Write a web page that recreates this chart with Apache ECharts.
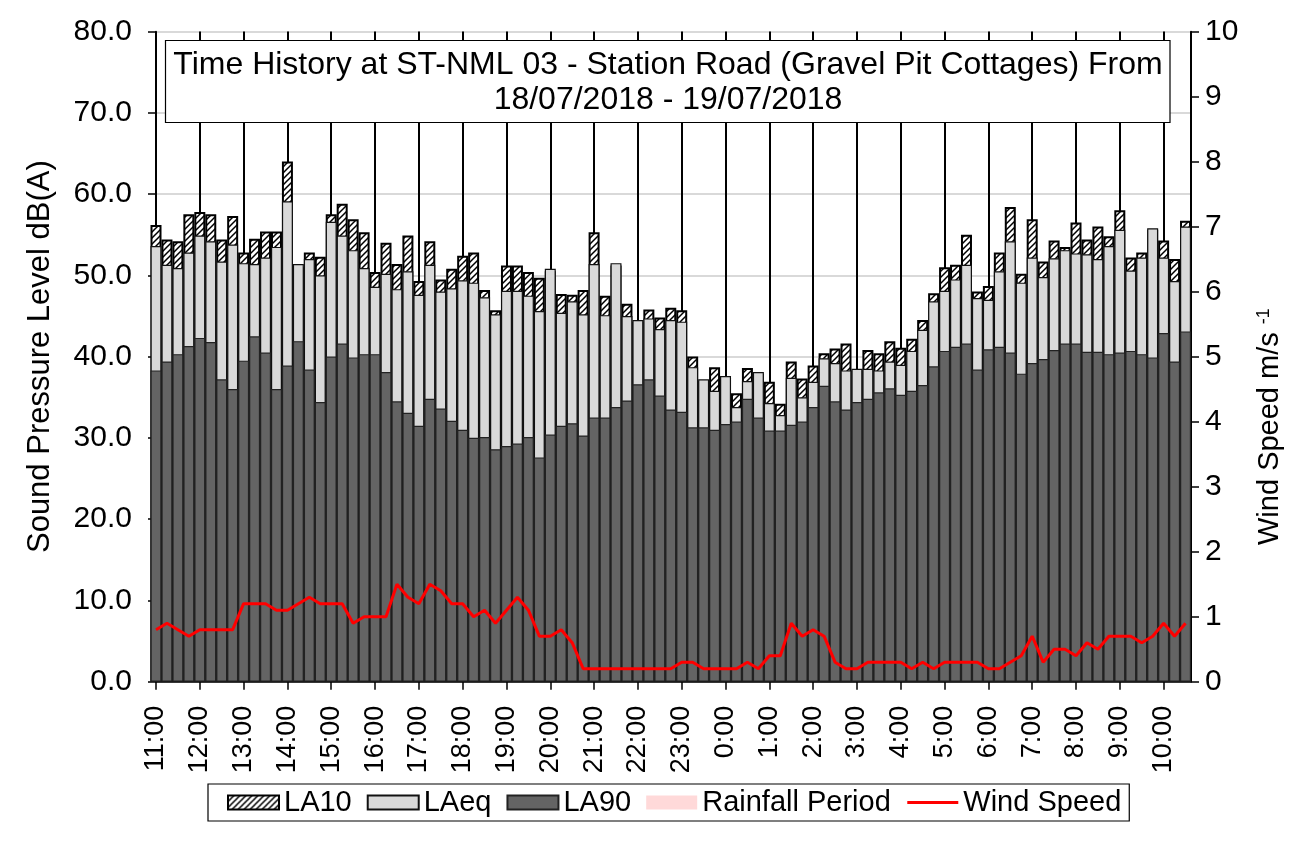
<!DOCTYPE html>
<html><head><meta charset="utf-8">
<script src="https://cdn.jsdelivr.net/npm/echarts@6/dist/echarts.min.js"></script>
<style>html,body{margin:0;padding:0;background:#fff}#c{width:1292px;height:841px}</style>
</head><body><div id="c"></div>
<script>
const times = ['11:00','11:15','11:30','11:45','12:00','12:15','12:30','12:45','13:00','13:15','13:30','13:45',
'14:00','14:15','14:30','14:45','15:00','15:15','15:30','15:45','16:00','16:15','16:30','16:45',
'17:00','17:15','17:30','17:45','18:00','18:15','18:30','18:45','19:00','19:15','19:30','19:45',
'20:00','20:15','20:30','20:45','21:00','21:15','21:30','21:45','22:00','22:15','22:30','22:45',
'23:00','23:15','23:30','23:45','0:00','0:15','0:30','0:45','1:00','1:15','1:30','1:45',
'2:00','2:15','2:30','2:45','3:00','3:15','3:30','3:45','4:00','4:15','4:30','4:45',
'5:00','5:15','5:30','5:45','6:00','6:15','6:30','6:45','7:00','7:15','7:30','7:45',
'8:00','8:15','8:30','8:45','9:00','9:15','9:30','9:45','10:00','10:15','10:30'];

const la10 = [56.2,54.4,54.2,57.5,57.8,57.5,54.4,57.3,52.8,54.5,55.4,55.4,
64.0,51.0,52.8,52.3,57.5,58.8,56.9,55.3,50.4,54.0,51.4,54.9,
49.3,54.2,49.5,50.8,52.4,52.8,48.2,45.7,51.2,51.2,50.4,49.7,
50.5,47.7,47.6,48.2,55.3,47.5,51.2,46.5,44.3,45.8,44.8,46.0,
45.7,40.0,37.0,38.7,37.4,35.5,38.6,37.9,36.9,34.2,39.4,37.3,
38.9,40.4,41.0,41.6,38.3,40.8,40.4,41.9,41.1,42.2,44.5,47.8,
51.0,51.3,55.0,48.0,48.7,52.8,58.4,50.2,56.9,51.7,54.3,53.5,
56.5,54.4,56.0,54.8,58.0,52.2,52.8,55.6,54.3,52.0,56.7];

const laeq = [53.6,51.3,50.9,52.8,54.9,54.2,51.7,53.8,51.5,51.4,52.2,53.5,
59.1,51.4,52.0,50.0,56.6,54.9,53.1,50.9,48.6,50.2,48.3,50.5,
47.6,51.3,48.0,48.4,49.4,49.1,47.3,45.2,48.1,48.1,47.5,45.6,
50.8,45.4,46.8,45.2,51.4,45.1,51.5,45.0,44.5,44.7,43.4,44.5,
44.3,38.7,37.2,35.8,37.6,33.8,37.0,38.1,34.3,32.8,37.4,35.0,
36.9,39.8,39.2,38.3,38.5,38.5,38.3,39.4,39.0,40.7,43.3,46.8,
48.1,49.5,51.3,47.2,47.0,50.5,54.2,49.1,52.2,49.8,52.1,53.1,
52.7,52.6,52.0,53.6,55.6,50.6,52.2,55.8,52.2,49.3,56.0];

const la90 = [38.3,39.4,40.3,41.3,42.3,41.8,37.2,36.0,39.5,42.5,40.5,36.0,
38.9,41.9,38.4,34.4,40.0,41.6,39.9,40.3,40.3,38.1,34.5,33.1,
31.5,34.8,33.6,32.1,31.0,30.0,30.1,28.6,29.0,29.3,30.1,27.6,
30.4,31.5,31.8,30.3,32.5,32.5,33.8,34.6,36.6,37.2,35.2,33.5,
33.2,31.3,31.3,31.0,31.7,32.0,34.8,32.5,30.9,30.9,31.6,32.0,
33.8,36.4,34.5,33.5,34.4,34.8,35.6,36.1,35.3,35.8,36.5,38.8,
40.7,41.2,41.6,38.4,40.9,41.2,40.5,37.9,39.2,39.7,40.8,41.6,
41.6,40.6,40.6,40.3,40.5,40.7,40.3,39.9,42.9,39.4,43.1];

const wind = [0.8,0.9,0.8,0.7,0.8,0.8,0.8,0.8,1.2,1.2,1.2,1.1,
1.1,1.2,1.3,1.2,1.2,1.2,0.9,1.0,1.0,1.0,1.5,1.3,
1.2,1.5,1.4,1.2,1.2,1.0,1.1,0.9,1.1,1.3,1.1,0.7,
0.7,0.8,0.6,0.2,0.2,0.2,0.2,0.2,0.2,0.2,0.2,0.2,
0.3,0.3,0.2,0.2,0.2,0.2,0.3,0.2,0.4,0.4,0.9,0.7,
0.8,0.7,0.3,0.2,0.2,0.3,0.3,0.3,0.3,0.2,0.3,0.2,
0.3,0.3,0.3,0.3,0.2,0.2,0.3,0.4,0.7,0.3,0.5,0.5,
0.4,0.6,0.5,0.7,0.7,0.7,0.6,0.7,0.9,0.7,0.9];

const rainfall = [];

const titleLines = ['Time History at ST-NML 03 - Station Road (Gravel Pit Cottages) From', '18/07/2018 - 19/07/2018'];
const leftAxisName = 'Sound Pressure Level dB(A)';
const rightAxisName = 'Wind Speed m/s ';
const rightAxisSup = '-1';

function hatch(){
  const c = document.createElement('canvas'); c.width = 6; c.height = 6;
  const g = c.getContext('2d');
  g.fillStyle = '#fff'; g.fillRect(0,0,6,6);
  g.strokeStyle = '#000'; g.lineWidth = 1.5;
  g.beginPath();
  g.moveTo(0,6); g.lineTo(6,0);
  g.moveTo(-3,3); g.lineTo(3,-3);
  g.moveTo(3,9); g.lineTo(9,3);
  g.stroke();
  return c;
}
const hatchFill = {image: hatch(), repeat: 'repeat'};
const FONT = "'Liberation Sans', Arial, sans-serif";

const chart = echarts.init(document.getElementById('c'), null, {renderer: 'canvas'});
const pair = arr => arr.map((v, i) => [i, v]);

chart.setOption({
  animation: false,
  backgroundColor: '#fff',
  textStyle: {fontFamily: FONT, color: '#000'},
  grid: {left: 156, right: 101, top: 31.5, bottom: 159.3, containLabel: false},
  xAxis: {
    type: 'value', min: 0, max: 94.5, interval: 4,
    axisLine: {show: true, onZero: false, lineStyle: {color: '#000', width: 1.5}},
    axisTick: {show: true, length: 8, lineStyle: {color: '#000', width: 1.5}},
    splitLine: {show: true, lineStyle: {color: '#000', width: 2}},
    axisLabel: {
      rotate: 90, margin: 24, fontSize: 27, color: '#000', fontFamily: FONT, showMaxLabel: false,
      formatter: v => (Number.isInteger(v) && v % 4 === 0 && times[v]) ? times[v] : ''
    }
  },
  yAxis: [{
    type: 'value', min: 0, max: 80, interval: 10, position: 'left',
    name: leftAxisName, nameLocation: 'middle', nameGap: 100,
    nameTextStyle: {fontSize: 31, color: '#000', fontFamily: FONT},
    axisLine: {show: true, lineStyle: {color: '#000', width: 1.5}},
    axisTick: {show: true, length: 8, lineStyle: {color: '#000', width: 1.5}},
    splitLine: {show: true, lineStyle: {color: '#d9d9d9', width: 2}},
    axisLabel: {fontSize: 30, margin: 24, color: '#000', fontFamily: FONT, formatter: v => v.toFixed(1)}
  }, {
    type: 'value', min: 0, max: 10, interval: 1, position: 'right',
    axisLine: {show: true, lineStyle: {color: '#000', width: 1.5}},
    axisTick: {show: true, length: 8, lineStyle: {color: '#000', width: 1.5}},
    splitLine: {show: false},
    axisLabel: {fontSize: 30, margin: 14, color: '#000', fontFamily: FONT}
  }],
  legend: {
    left: 208, top: 784, itemWidth: 51, itemHeight: 14, itemGap: 15,
    padding: [4, 8, 4, 19], borderColor: '#000', borderWidth: 1.2,
    textStyle: {fontSize: 29, color: '#000', fontFamily: FONT},
    data: [{name: 'LA10', icon: 'rect'}, {name: 'LAeq', icon: 'rect'}, {name: 'LA90', icon: 'rect'},
      {name: 'Rainfall Period', icon: 'rect'},
      {name: 'Wind Speed', itemStyle: {opacity: 0}, lineStyle: {width: 3, color: '#ff0000'}}]
  },
  graphic: [{
    type: 'rect', z: 100, shape: {x: 165.5, y: 40.5, width: 1004.5, height: 82},
    style: {fill: '#fff', stroke: '#000', lineWidth: 1.2}
  }, {
    type: 'text', z: 101, x: 668, y: 83,
    style: {text: titleLines.join('\n'), font: '32px ' + FONT, fill: '#000', align: 'center', verticalAlign: 'middle', lineHeight: 35}
  }, {
    type: 'text', z: 101, x: 1270, y: 545, rotation: Math.PI / 2,
    style: {
      text: '{a|' + rightAxisName + '}{b|' + rightAxisSup + '}', align: 'left', verticalAlign: 'middle',
      rich: {a: {font: '29px ' + FONT, fill: '#000'}, b: {font: '18px ' + FONT, fill: '#000', verticalAlign: 'top'}}
    }
  }],
  series: [{
    name: 'LA10', type: 'bar', data: pair(la10), barWidth: 11, barGap: '-100%',
    itemStyle: {color: hatchFill, borderColor: '#000', borderWidth: 2}
  }, {
    name: 'LAeq', type: 'bar', data: pair(laeq), barWidth: 11, barGap: '-100%',
    itemStyle: {color: '#d9d9d9', borderColor: '#111', borderWidth: 1.2}
  }, {
    name: 'LA90', type: 'bar', data: pair(la90), barWidth: 11, barGap: '-100%',
    itemStyle: {color: '#646464', borderColor: '#222', borderWidth: 1.2}
  }, {
    name: 'Rainfall Period', type: 'bar', data: rainfall, barWidth: 11, barGap: '-100%',
    itemStyle: {color: '#ffd9d9'}
  }, {
    name: 'Wind Speed', type: 'line', yAxisIndex: 1, data: pair(wind), symbol: 'none', z: 5,
    lineStyle: {color: '#ff0000', width: 3}, itemStyle: {color: '#ff0000'}
  }]
});
</script></body></html>
